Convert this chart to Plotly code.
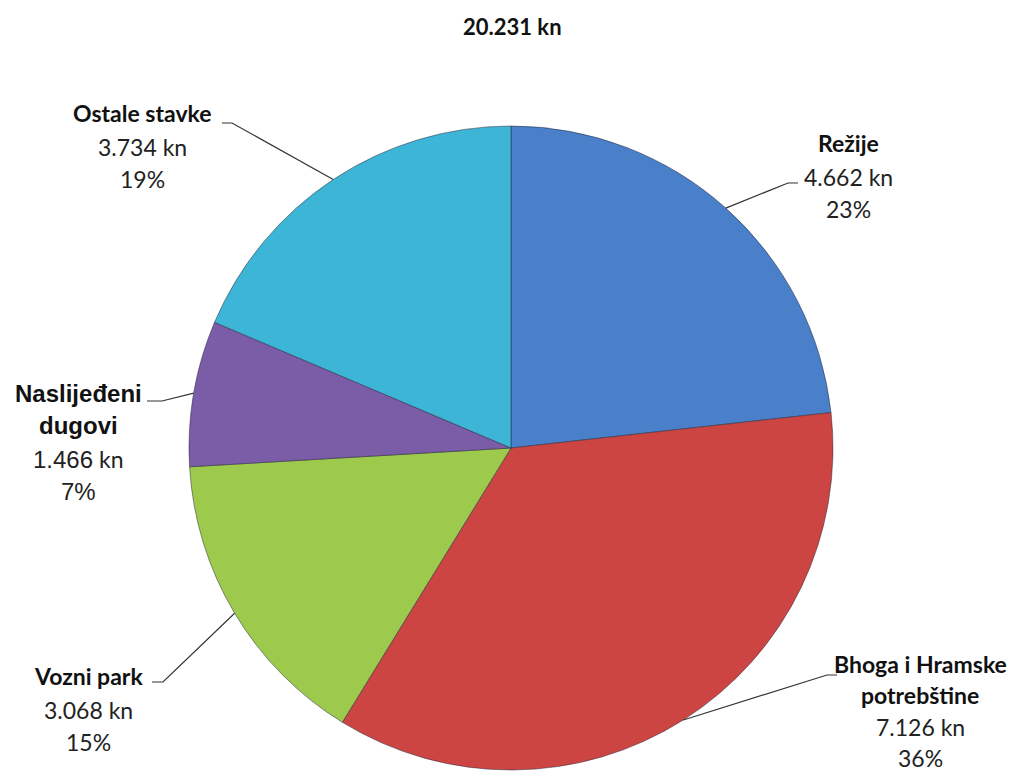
import math
import plotly.graph_objects as go

# ---- data ----
title_text = "20.231 kn"
categories = ["Režije", "Bhoga i Hramske potrebštine", "Vozni park", "Naslijeđeni dugovi", "Ostale stavke"]
values = [4662, 7126, 3068, 1466, 3734]
label_lines = [["Režije"], ["Bhoga i Hramske", "potrebštine"], ["Vozni park"], ["Naslijeđeni", "dugovi"], ["Ostale stavke"]]
colors = ["#4A80C9", "#CD4543", "#9DC94D", "#7B5CA6", "#3DB5D7"]

W, H = 1029, 774
OFF = 8                      # page body margin
FW, FH = W - OFF, H - OFF
CX, CY, R = 511, 448, 322

# label layout (pixel positions of text centre, elbow offsets) — styling only
label_pos = [(848, 143), (920, 664), (88, 676), (78, 393), (142, 113)]
label_gap = [32, 30.5, 32, 32, 32]
elbows = [((788, 183), (798, 183)), ((827, 675), (837, 675)), ((163, 682), (152, 682)),
          ((162, 401), (147, 401)), ((232, 123), (222, 123))]
arial_label = [False, False, False, True, False]
FS = 23


def px(x):
    return (x - OFF) / FW


def py(y):
    return 1 - (y - OFF) / FH


def clamp(v):
    return min(1.0, max(0.0, v))


fig = go.Figure(go.Pie(
    labels=categories, values=values, sort=False, direction="clockwise", rotation=0,
    marker=dict(colors=colors, line=dict(color="rgba(40,40,60,0.5)", width=1)),
    textinfo="none", hoverinfo="label+value+percent", showlegend=False,
    domain=dict(x=[clamp(px(CX - R)), clamp(px(CX + R))], y=[clamp(py(CY + R)), clamp(py(CY - R))]),
))

total = sum(values)
annotations = []
shapes = []
cum = 0
for i, v in enumerate(values):
    mid = (cum + v / 2) / total * 2 * math.pi
    cum += v
    ex = CX + R * math.sin(mid)
    ey = CY - R * math.cos(mid)
    (bx, by), (hx, hy) = elbows[i]
    shapes.append(dict(type="path", xref="paper", yref="paper",
                       path=f"M {px(ex)} {py(ey)} L {px(bx)} {py(by)} L {px(hx)} {py(hy)}",
                       line=dict(color="#333333", width=1.2)))
    lx, ly = label_pos[i]
    gap = label_gap[i]
    lines = label_lines[i]
    pct = round(v / total * 100)
    valtxt = f"{v:,}".replace(",", ".")
    if arial_label[i]:
        bfont = dict(family="Liberation Sans", size=24, color="#111111")
        vt = f"<span style='font-family:Liberation Sans;font-size:24px'>{valtxt}</span> kn"
        pt = f"<span style='font-family:Liberation Sans;font-size:24px'>{pct}%</span>"
    else:
        bfont = dict(family="Lato", size=FS, color="#111111")
        vt = f"{valtxt} kn"
        pt = f"{pct}%"
    for k, t in enumerate(lines):
        annotations.append(dict(x=px(lx), y=py(ly + k * gap), xref="paper", yref="paper",
                                text=f"<b>{t}</b>", showarrow=False, xanchor="center", yanchor="middle",
                                font=bfont))
    n = len(lines)
    annotations.append(dict(x=px(lx), y=py(ly + n * gap + 2), xref="paper", yref="paper",
                            text=vt, showarrow=False, xanchor="center", yanchor="middle",
                            font=dict(family="Lato", size=FS, color="#222222")))
    annotations.append(dict(x=px(lx), y=py(ly + (n + 1) * gap + 2), xref="paper", yref="paper",
                            text=pt, showarrow=False, xanchor="center", yanchor="middle",
                            font=dict(family="Lato", size=FS, color="#222222")))

annotations.append(dict(x=px(512), y=py(27), xref="paper", yref="paper", text=f"<b>{title_text}</b>",
                        showarrow=False, xanchor="center", yanchor="middle",
                        font=dict(family="Lato", size=22, color="#111111")))

fig.update_layout(width=FW, height=FH, margin=dict(l=0, r=0, t=0, b=0),
                  paper_bgcolor="white", plot_bgcolor="white",
                  annotations=annotations, shapes=shapes)

fig.write_html("out.html")
